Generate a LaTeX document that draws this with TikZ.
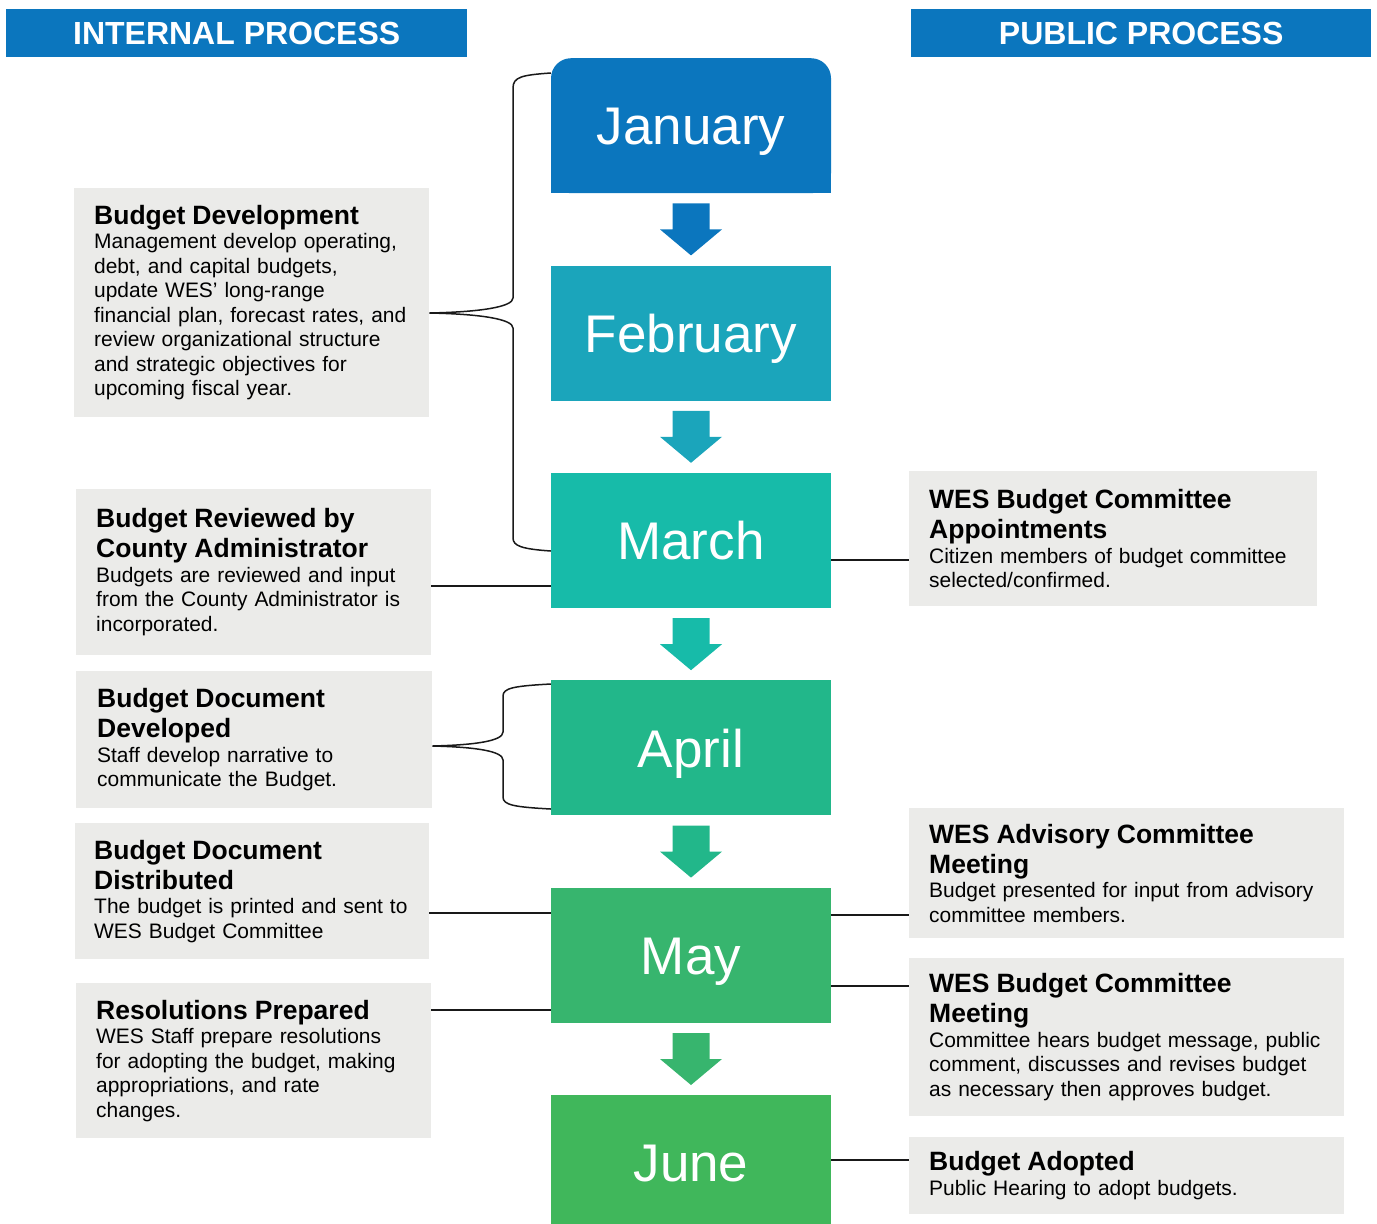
\documentclass[tikz,border=0pt]{standalone}
\usepackage{fontspec}
\setmainfont{Liberation Sans}
\usetikzlibrary{positioning}

\definecolor{wesblue}{RGB}{11,118,190}
\definecolor{febcol}{RGB}{27,165,187}
\definecolor{marcol}{RGB}{23,187,169}
\definecolor{aprcol}{RGB}{34,183,138}
\definecolor{maycol}{RGB}{55,181,110}
\definecolor{juncol}{RGB}{64,183,91}
\definecolor{boxgray}{RGB}{235,235,233}

% bold heading on top of each step card
\newcommand{\hd}[1]{{\fontsize{26.5}{30}\selectfont\bfseries #1\par}}

\begin{document}
\begin{tikzpicture}[x=1pt,y=-1pt]
\tikzstyle{header}=[fill=wesblue, text=white, minimum width=461pt, minimum height=48pt,
  anchor=north west, inner sep=0pt, font=\fontsize{32}{36}\selectfont\bfseries,
  text height=23.3pt, text depth=0pt]
\tikzstyle{month}=[minimum width=280pt, minimum height=135pt, inner sep=0pt,
  text=white, font=\fontsize{53}{60}\selectfont, text height=38.5pt, text depth=0pt]
\tikzstyle{card}=[fill=boxgray, anchor=north west, inner sep=0pt]
\tikzstyle{cardtext}=[anchor=west, inner sep=0pt, text width=400pt, align=left,
  font=\fontsize{20.95}{24.5}\selectfont]
\tikzstyle{link}=[line width=1.8pt, draw=black!90]
\tikzstyle{brace}=[line width=1.5pt, draw=black!90]
\useasboundingbox (0,0) rectangle (1377,1224);

% column headers
\node[header] (intl) at (6,9) {INTERNAL PROCESS};
\node[header, minimum width=460pt] (publ) at (911,9) {PUBLIC PROCESS};

% months
\node[month, anchor=north, fill=wesblue, rounded corners=20pt] (jan) at (691,58) {January};
\fill[wesblue] (jan.south west) rectangle ([yshift=22pt]jan.south east); % square off the bottom
\node[month, fill=febcol, below=72pt of jan] (feb) {February};
\node[month, fill=marcol, below=72pt of feb] (mar) {March};
\node[month, fill=aprcol, below=72pt of mar] (apr) {April};
\node[month, fill=maycol, below=72pt of apr] (may) {May};
\node[month, fill=juncol, below=72pt of may] (jun) {June};

\foreach \a/\b/\c in {jan/feb/wesblue, feb/mar/febcol, mar/apr/marcol, apr/may/aprcol, may/jun/maycol}
  \fill[\c] ([xshift=-18.5pt,yshift=-10pt]\a.south) -- ([xshift=18.5pt,yshift=-10pt]\a.south)
    -- ([xshift=18.5pt,yshift=36pt]\b.north) -- ([xshift=31pt,yshift=36pt]\b.north)
    -- ([yshift=10pt]\b.north) -- ([xshift=-31pt,yshift=36pt]\b.north)
    -- ([xshift=-18.5pt,yshift=36pt]\b.north) -- cycle;

% internal process cards
\node[card, minimum width=355pt, minimum height=229pt] (devel) at (74,188) {};
\node[cardtext] (devel-t) at ([xshift=20pt]devel.west)
  {\hd{Budget Development}Management develop operating,\\debt, and capital budgets,\\update WES’ long-range\\financial plan, forecast rates, and\\review organizational structure\\and strategic objectives for\\upcoming fiscal year.};
\node[card, minimum width=355pt, minimum height=166pt] (review) at (76,489) {};
\node[cardtext] (review-t) at ([xshift=20pt]review.west)
  {\hd{Budget Reviewed by\\County Administrator}Budgets are reviewed and input\\from the County Administrator is\\incorporated.};
\node[card, minimum width=356pt, minimum height=137pt] (docdev) at (76,671) {};
\node[cardtext] (docdev-t) at ([xshift=21pt]docdev.west)
  {\hd{Budget Document\\Developed}Staff develop narrative to\\communicate the Budget.};
\node[card, minimum width=354pt, minimum height=136pt] (docdist) at (75,823) {};
\node[cardtext] (docdist-t) at ([xshift=19pt]docdist.west)
  {\hd{Budget Document\\Distributed}The budget is printed and sent to\\WES Budget Committee};
\node[card, minimum width=355pt, minimum height=155pt] (resol) at (76,983) {};
\node[cardtext] (resol-t) at ([xshift=20pt]resol.west)
  {\hd{Resolutions Prepared}WES Staff prepare resolutions\\for adopting the budget, making\\appropriations, and rate\\changes.};

% public process cards
\node[card, minimum width=408pt, minimum height=135pt] (appoint) at (909,471) {};
\node[cardtext] (appoint-t) at ([xshift=20pt]appoint.west)
  {\hd{WES Budget Committee\\Appointments}Citizen members of budget committee\\selected/confirmed.};
\node[card, minimum width=435pt, minimum height=130pt] (advisory) at (909,808) {};
\node[cardtext] (advisory-t) at ([xshift=20pt]advisory.west)
  {\hd{WES Advisory Committee\\Meeting}Budget presented for input from advisory\\committee members.};
\node[card, minimum width=435pt, minimum height=158pt] (bcmeet) at (909,958) {};
\node[cardtext] (bcmeet-t) at ([xshift=20pt]bcmeet.west)
  {\hd{WES Budget Committee\\Meeting}Committee hears budget message, public\\comment, discusses and revises budget\\as necessary then approves budget.};
\node[card, minimum width=435pt, minimum height=77pt] (adopted) at (909,1137) {};
\node[cardtext] (adopted-t) at ([xshift=20pt]adopted.west)
  {\hd{Budget Adopted}Public Hearing to adopt budgets.};

% braces
\draw[brace] (jan.west |- 0,73) .. controls (522,75) and (513,77) .. (513,88)
  -- (513,298) .. controls (513,307) and (480,312) .. (devel.east |- 0,313)
  .. controls (480,314) and (513,319) .. (513,328)
  -- (513,538) .. controls (513,546) and (522,549) .. (mar.west |- 0,551);
\draw[brace] (apr.west |- 0,684) .. controls (514,686) and (503,688) .. (503,696)
  -- (503,732) .. controls (503,741) and (475,745) .. (docdev.east |- 0,746)
  .. controls (475,747) and (503,751) .. (503,760)
  -- (503,797) .. controls (503,805) and (514,807) .. (apr.west |- 0,809);

% straight links
\draw[link] (review.east |- 0,586) -- (mar.west |- 0,586);
\draw[link] (docdist.east |- 0,913) -- (may.west |- 0,913);
\draw[link] (resol.east |- 0,1010) -- (may.west |- 0,1010);
\draw[link] (mar.east |- 0,560) -- (appoint.west |- 0,560);
\draw[link] (may.east |- 0,915) -- (advisory.west |- 0,915);
\draw[link] (may.east |- 0,986) -- (bcmeet.west |- 0,986);
\draw[link] (jun.east |- 0,1160) -- (adopted.west |- 0,1160);
\end{tikzpicture}
\end{document}
